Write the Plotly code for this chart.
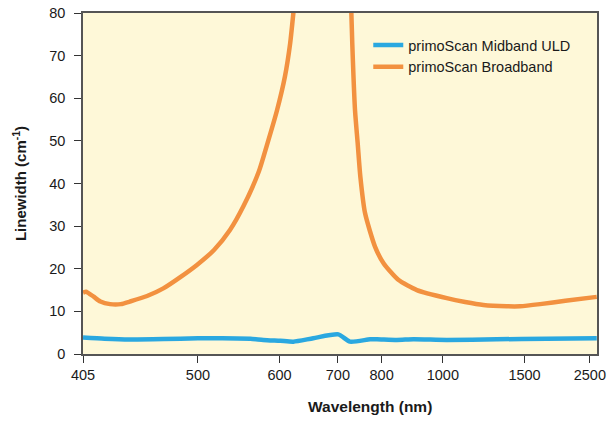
import plotly.graph_objects as go

# ---- data (wavelength in nm, linewidth in cm^-1) ----
bb_signal_wl = [405, 407, 412, 417, 424, 432, 439, 453, 467, 483, 499, 517, 535, 551,
                571, 582, 596, 608, 616, 621, 626]
bb_signal_lw = [14.4, 14.6, 13.5, 12.3, 11.7, 11.7, 12.3, 13.6, 15.4, 18.1, 20.9, 24.4, 29.1, 34.6,
                42.8, 49.0, 57.0, 65.1, 72.9, 80.0, 88.0]
bb_idler_wl = [724, 728, 730, 736, 742, 748, 759, 783, 805, 846, 904, 1016, 1100, 1198,
               1353, 1460, 1658, 2000, 2690]
bb_idler_lw = [88.0, 80.0, 72.9, 57.2, 49.4, 41.6, 33.0, 25.2, 21.3, 17.4, 15.0, 13.1, 12.2, 11.5,
               11.2, 11.2, 11.7, 12.5, 13.4]

mb_wl = [405, 420, 439, 467, 500, 524, 560, 577, 601, 621, 654, 701, 725, 771, 788, 842,
         893, 1016, 1282, 1736, 2690]
mb_lw = [3.9, 3.6, 3.4, 3.5, 3.7, 3.7, 3.6, 3.3, 3.1, 2.9, 3.7, 4.6, 2.9, 3.45, 3.45, 3.3,
         3.45, 3.3, 3.45, 3.6, 3.7]

tick_wl = [405, 500, 600, 700, 800, 1000, 1500, 2500]
tick_text = ["405", "500", "600", "700", "800", "1000", "1500", "2500"]
y_ticks = [0, 10, 20, 30, 40, 50, 60, 70, 80]

x_min_wl, x_max_wl = 405, 2697

series_names = ["primoScan Midband ULD", "primoScan Broadband"]

def wn(wl):
    return [1e7 / w for w in wl]

BLUE = "#2AA8E0"
ORANGE = "#F29140"
FONT = "Liberation Sans, Arial, sans-serif"

fig = go.Figure()
fig.add_trace(go.Scatter(x=wn(mb_wl), y=mb_lw, mode="lines", name=series_names[0],
                         line=dict(color=BLUE, width=4.5, shape="spline", smoothing=0.6)))
fig.add_trace(go.Scatter(x=wn(bb_signal_wl), y=bb_signal_lw, mode="lines", name=series_names[1],
                         legendgroup="bb",
                         line=dict(color=ORANGE, width=4.5, shape="spline", smoothing=0.6)))
fig.add_trace(go.Scatter(x=wn(bb_idler_wl), y=bb_idler_lw, mode="lines", name=series_names[1],
                         legendgroup="bb", showlegend=False,
                         line=dict(color=ORANGE, width=4.5, shape="spline", smoothing=0.6)))

fig.update_layout(
    width=616, height=423,
    margin=dict(l=83, r=19, t=13, b=69),
    paper_bgcolor="white",
    plot_bgcolor="#FEF8D8",
    font=dict(family=FONT, size=14, color="#1a1a1a"),
    showlegend=True,
    legend=dict(x=0.555, y=0.953, xanchor="left", yanchor="top",
                bgcolor="rgba(0,0,0,0)", font=dict(size=14.5, family=FONT),
                itemwidth=30, tracegroupgap=0),
    xaxis=dict(
        type="linear", automargin=False,
        range=[1e7 / x_min_wl, 1e7 / x_max_wl],
        tickmode="array", tickvals=wn(tick_wl), ticktext=tick_text,
        ticks="outside", ticklen=7, tickcolor="#333333", tickwidth=1.2,
        showline=True, linecolor="#555555", linewidth=1.5, mirror=True,
        showgrid=False, zeroline=False,
        tickfont=dict(size=14.5, family=FONT),
    ),
    yaxis=dict(
        automargin=False,
        range=[0, 80],
        tickmode="array", tickvals=y_ticks,
        ticks="outside", ticklen=7, tickcolor="#333333", tickwidth=1.2,
        showline=True, linecolor="#555555", linewidth=1.5, mirror=True,
        showgrid=False, zeroline=False,
        ticklabelstandoff=6,
        tickfont=dict(size=14.5, family=FONT),
        title=dict(text="<b>Linewidth (cm<sup>-1</sup>)</b>", font=dict(size=15, family=FONT),
                   standoff=19),
    ),
    annotations=[dict(text="<b>Wavelength (nm)</b>", xref="paper", yref="paper",
                      x=0.5586, y=-0.1525, xanchor="center", yanchor="middle",
                      showarrow=False, font=dict(size=15.5, family=FONT))],
)

fig.write_html("out.html", config={"displayModeBar": False},
               post_script="document.body.style.margin='0';document.body.style.padding='0';")
